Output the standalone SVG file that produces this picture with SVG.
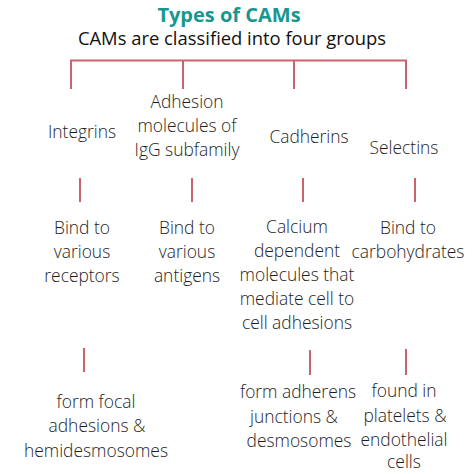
<svg xmlns="http://www.w3.org/2000/svg" width="474" height="474" viewBox="0 0 474 474">
<style>
text{font-family:"Open Sans","Liberation Sans",sans-serif;font-weight:300;font-size:17.4px;fill:#1e1e1e;text-anchor:middle}
.title{font-weight:700;font-size:20px;fill:#1a9690}
.sub{font-weight:400;font-size:18.4px;fill:#111}
.ln{stroke:#c9646d;stroke-width:2;fill:none}
</style>
<rect width="474" height="474" fill="#fff"/>
<g id="title"><text class="title" x="229" y="21.5">Types of CAMs</text></g>
<g id="subtitle"><text class="sub" x="232" y="45">CAMs are classified into four groups</text></g>
<g id="connectors">
<path class="ln" d="M71 89V60.5H406V89M183 60.5V89M294 60.5V89"/>
<path class="ln" d="M80 178V202M192 178V202M303 178V202M415 178V202"/>
<path class="ln" d="M84 348V372M310 350V375M406 349V375"/>
</g>
<g id="integrins"><text x="82" y="138">Integrins</text></g>
<g id="igg"><text x="187" y="108">Adhesion</text><text x="187" y="132">molecules of</text><text x="187" y="156">IgG subfamily</text></g>
<g id="cadherins"><text x="309" y="143">Cadherins</text></g>
<g id="selectins"><text x="404" y="154">Selectins</text></g>
<g id="integrins-fn"><text x="82" y="234">Bind to</text><text x="82" y="258">various</text><text x="82" y="282">receptors</text></g>
<g id="igg-fn"><text x="187" y="234">Bind to</text><text x="187" y="258">various</text><text x="187" y="282">antigens</text></g>
<g id="cadherins-fn"><text x="297" y="233">Calcium</text><text x="297" y="257">dependent</text><text x="297" y="281">molecules that</text><text x="297" y="305">mediate cell to</text><text x="297" y="329">cell adhesions</text></g>
<g id="selectins-fn"><text x="408" y="234">Bind to</text><text x="408" y="258">carbohydrates</text></g>
<g id="integrins-loc"><text x="96" y="408">form focal</text><text x="97" y="432">adhesions &amp;</text><text x="96" y="457">hemidesmosomes</text></g>
<g id="cadherins-loc"><text x="298" y="398">form adherens</text><text x="294" y="423">junctions &amp;</text><text x="299" y="447">desmosomes</text></g>
<g id="selectins-loc"><text x="404" y="397">found in</text><text x="405" y="422">platelets &amp;</text><text x="404" y="446">endothelial</text><text x="404" y="468">cells</text></g>
</svg>
